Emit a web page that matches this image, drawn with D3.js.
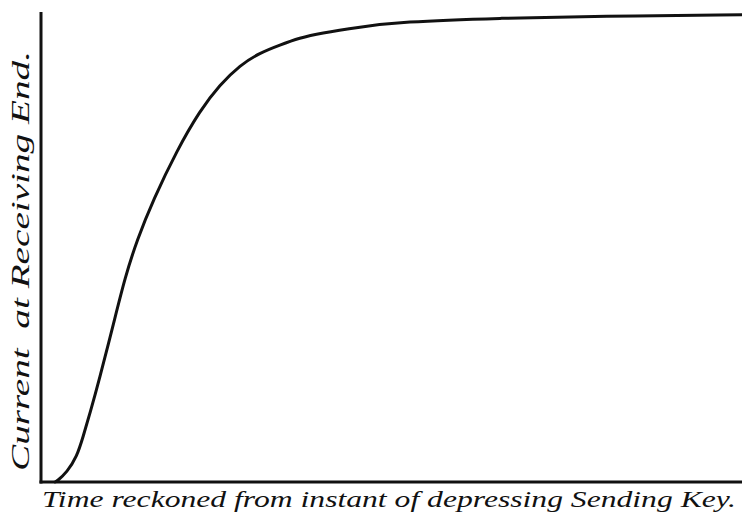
<!DOCTYPE html>
<html>
<head>
<meta charset="utf-8">
<script src="https://cdn.jsdelivr.net/npm/d3@7"></script>
<style>
  html, body { margin: 0; padding: 0; background: #fff; }
  svg { display: block; }
  text.title { font-family: "Liberation Serif"; font-style: italic; fill: #111; }
</style>
</head>
<body>
<svg id="chart" width="742" height="516"></svg>
<script>
// Time since the sending key is pressed (arbitrary units, 0–100)
const time = [2.0, 2.3, 3.7, 5.1, 6.0, 7.0, 8.3, 10.4, 12.0, 13.7, 16.0, 19.4, 22.7, 25.5, 28.4, 31.2, 34.1, 36.9, 39.8, 45.5, 51.2, 65.5, 79.7, 100];
// Current arriving at the receiving end (percent of final value)
const current = [0, 0.2, 2.1, 5.3, 9.6, 14.7, 21.7, 34.0, 43.6, 51.5, 60.0, 70.6, 79.1, 84.5, 88.7, 91.3, 93.0, 94.5, 95.5, 96.8, 97.9, 98.7, 99.1, 99.4];

const xLabel = "Time reckoned from instant of depressing Sending Key.";
const yLabel = "Current\u00a0 at Receiving End.";

const svg = d3.select("#chart");
const plotLeft = 41, plotRight = 742, plotTop = 12, plotBottom = 482;

const x = d3.scaleLinear().domain([0, 100]).range([plotLeft, plotRight]);
const y = d3.scaleLinear().domain([0, 100]).range([plotBottom, plotTop]);

// Axes: plain heavy rules, no ticks
svg.append("line")
  .attr("x1", x(0)).attr("x2", x(0))
  .attr("y1", y(100)).attr("y2", y(0) + 1.5)
  .attr("stroke", "#111").attr("stroke-width", 3);
svg.append("line")
  .attr("x1", x(0) - 1.5).attr("x2", x(100))
  .attr("y1", y(0)).attr("y2", y(0))
  .attr("stroke", "#111").attr("stroke-width", 3);

// Rising current curve, smoothed through the sampled readings
const pts = time.map((t, i) => [t, current[i]]);
svg.append("path")
  .datum(pts)
  .attr("fill", "none")
  .attr("stroke", "#111")
  .attr("stroke-width", 3)
  .attr("stroke-linecap", "round")
  .attr("d", d3.line().x(d => x(d[0])).y(d => y(d[1])).curve(d3.curveBasis));

// Axis titles
svg.append("text")
  .attr("class", "title")
  .attr("x", 42).attr("y", 507)
  .attr("font-size", 24)
  .attr("textLength", 694)
  .attr("lengthAdjust", "spacingAndGlyphs")
  .text(xLabel);

svg.append("text")
  .attr("class", "title")
  .attr("transform", "translate(29,471) rotate(-90)")
  .attr("font-size", 25)
  .attr("textLength", 420)
  .attr("lengthAdjust", "spacingAndGlyphs")
  .text(yLabel);
</script>
</body>
</html>
